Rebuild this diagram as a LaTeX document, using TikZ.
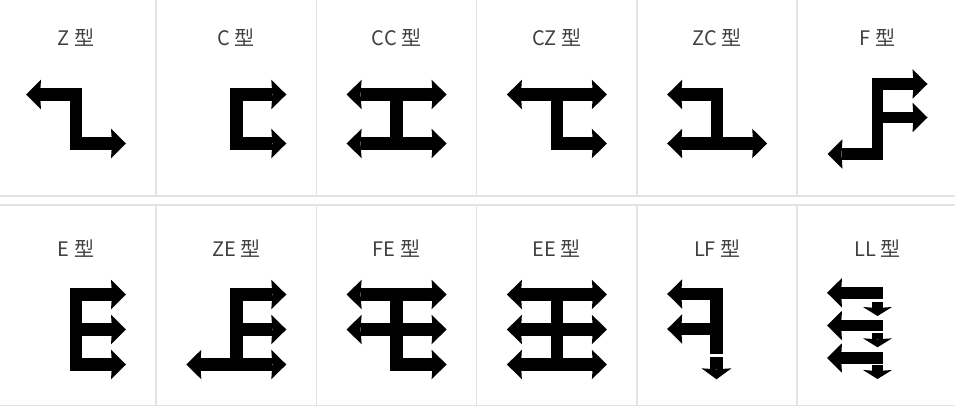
\documentclass[tikz,border=0pt]{standalone}
\usepackage{fontspec}
\setmainfont{Noto Sans CJK SC}
\usepackage{tikz}
\usetikzlibrary{arrows.meta}
\definecolor{gridgray}{HTML}{E3E3E3}
\definecolor{labelgray}{HTML}{404040}

\begin{document}
\begin{tikzpicture}[x=1pt, y=-1pt,
        every node/.style={font=\fontsize{20}{23}\selectfont, text=labelgray, inner sep=0pt},
        grid/.style={draw=gridgray, line width=1.5pt},
        bar/.style={line width=12.5pt, line join=miter, line cap=butt},
        slimbar/.style={line width=11.5pt, line join=miter, line cap=butt},
        drop/.style={line width=11.5pt, -{Stealth[length=9pt, width=29pt, inset=1pt, line width=0pt]}},
        >={Stealth[length=15pt, width=29.5pt, inset=1pt, line width=0pt]}]
        \useasboundingbox (0,0) rectangle (955,409);

        \draw[grid] (0,196) -- (955,196);
        \draw[grid] (0,205) -- (955,205);
        \draw[grid] (0,405.5) -- (955,405.5);
        \foreach \x in {156,316.3,476.6,636.9,797.2} {
            \draw[grid] (\x,0) -- (\x,196);
            \draw[grid] (\x,205) -- (\x,405.5);
        }

        \node (zlab) at (76,38) {Z 型};
        \node (clab) at (236.3,38) {C 型};
        \node (cclab) at (396.6,38) {CC 型};
        \node (czlab) at (556.9,38) {CZ 型};
        \node (zclab) at (717.2,38) {ZC 型};
        \node (flab) at (877.5,38) {F 型};
        \node (elab) at (76,248.5) {E 型};
        \node (zelab) at (236.3,248.5) {ZE 型};
        \node (felab) at (396.6,248.5) {FE 型};
        \node (eelab) at (556.9,248.5) {EE 型};
        \node (lflab) at (717.2,248.5) {LF 型};
        \node (lllab) at (877.5,248.5) {LL 型};

        % top row
        \draw[bar, <->] (26,94.5) -- (76,94.5) -- (76,143.5) -- (126,143.5);
        \draw[bar, <->] (286.3,94.5) -- (236.3,94.5) -- (236.3,143.5) -- (286.3,143.5);
        \draw[bar, <->] (346.6,94.5) -- (446.6,94.5);
        \draw[bar, <->] (346.6,143.5) -- (446.6,143.5);
        \draw[bar] (396.6,94.5) -- (396.6,143.5);
        \draw[bar, <->] (506.9,94.5) -- (606.9,94.5);
        \draw[bar, ->] (556.9,94.5) -- (556.9,143.5) -- (606.9,143.5);
        \draw[bar, <-] (667.2,94.5) -- (717.2,94.5) -- (717.2,143.5);
        \draw[bar, <->] (667.2,143.5) -- (767.2,143.5);
        \draw[slimbar, <->] (927.5,84) -- (877.5,84) -- (877.5,154) -- (827.5,154);
        \draw[slimbar, ->] (877.5,117.5) -- (927.5,117.5);

        % bottom row
        \draw[bar, <->] (126,294.5) -- (76,294.5) -- (76,364.5) -- (126,364.5);
        \draw[bar, ->] (76,329.5) -- (126,329.5);
        \draw[bar, ->] (236.3,364.5) -- (236.3,294.5) -- (286.3,294.5);
        \draw[bar, ->] (236.3,329.5) -- (286.3,329.5);
        \draw[bar, <->] (186.3,364.5) -- (286.3,364.5);
        \draw[bar, <->] (346.6,294.5) -- (446.6,294.5);
        \draw[bar, <->] (346.6,329.5) -- (446.6,329.5);
        \draw[bar, ->] (396.6,294.5) -- (396.6,364.5) -- (446.6,364.5);
        \draw[bar, <->] (506.9,294.5) -- (606.9,294.5);
        \draw[bar, <->] (506.9,329.5) -- (606.9,329.5);
        \draw[bar, <->] (506.9,364.5) -- (606.9,364.5);
        \draw[bar] (556.9,294.5) -- (556.9,364.5);
        \draw[bar, <-] (667.2,294) -- (716.5,294) -- (716.5,354.3);
        \draw[bar, <-] (667.2,329) -- (716.5,329);
        \draw[bar, -{Stealth[length=11pt, width=30pt, inset=1pt, line width=0pt]}] (716.5,357) -- (716.5,379.3);
        \draw[slimbar, <-] (827,292.8) -- (883.3,292.8);
        \draw[slimbar, <-] (827,325.5) -- (883.3,325.5);
        \draw[slimbar, <-] (827,358) -- (883.3,358);
        \draw[drop] (877.5,302.3) -- (877.5,316);
        \draw[drop] (877.5,333.3) -- (877.5,347.3);
        \draw[drop] (877.5,365) -- (877.5,379);
\end{tikzpicture}
\end{document}
